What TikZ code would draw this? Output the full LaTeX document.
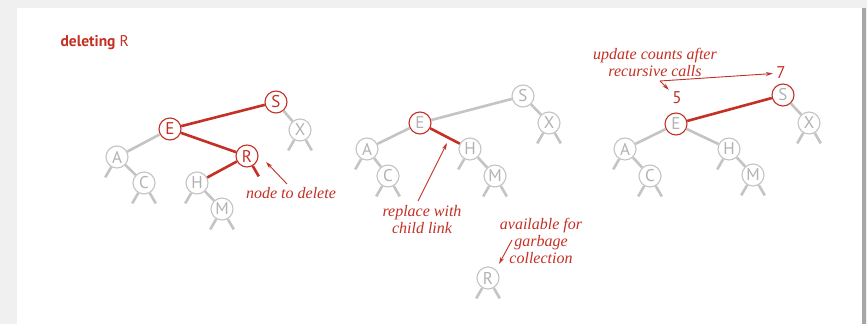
\documentclass[tikz,border=0pt]{standalone}
\usepackage{fontspec}
\setmainfont{Liberation Serif}
\setsansfont{PT Sans}
\usepackage{tikz}
\usetikzlibrary{arrows.meta}
\definecolor{bookred}{RGB}{196,48,36}
\definecolor{linkgray}{RGB}{196,196,196}
\definecolor{lettergray}{RGB}{178,178,178}
\definecolor{pagegray}{RGB}{240,240,240}

\begin{document}
\begin{tikzpicture}[x=1pt,y=1pt,
  key/.style={circle,draw=linkgray,fill=white,line width=1.1pt,minimum size=22pt,inner sep=0pt,
    text=lettergray,font=\sffamily\fontsize{17}{17}\selectfont},
  redkey/.style={key,draw=bookred},
  hotkey/.style={redkey,text=bookred},
  link/.style={linkgray,line width=2.6pt},
  redlink/.style={bookred,line width=2.6pt},
  count/.style={text=bookred,font=\sffamily\fontsize{17}{17}\selectfont},
  note/.style={text=bookred,font=\itshape\fontsize{16}{17}\selectfont,align=center},
  pointer/.style={bookred,line width=0.9pt,-{Stealth[length=7pt,width=4pt]}}]
  \useasboundingbox (0,0) rectangle (867,324);
  \fill[pagegray] (0,0) rectangle (867,324);
  \fill[gray!70] (862,0) rectangle (866,316);
  \fill[white] (17,0) rectangle (862,316);

  \node[anchor=base west,text=bookred,font=\sffamily\fontsize{15.5}{15}\selectfont] (title) at (57,277) {\textbf{deleting} R};

  % before: R is found
  \node[hotkey] (s1) at (276,222) {S};
  \node[hotkey] (e1) at (170,195) {E};
  \node[key] (x1) at (300,194) {X};
  \node[key] (a1) at (117,167) {A};
  \node[hotkey] (r1) at (247,168) {R};
  \node[key] (c1) at (144,141) {C};
  \node[key] (h1) at (197,141) {H};
  \node[key] (m1) at (222,115) {M};
  \draw[link] (s1) -- (x1);
  \draw[link] (e1) -- (a1);
  \draw[link] (a1) -- (c1);
  \draw[link] (h1) -- (m1);
  \draw[redlink] (s1) -- (e1);
  \draw[redlink] (e1) -- (r1);
  \draw[redlink] (r1) -- (h1);
  \draw[redlink] (r1.-60) -- ++(-60:12);
  \node[note] (del) at (291,131) {node to delete};
  \draw[pointer] (287,140) -- (266,162);

  % after: link replaced
  \node[key] (s2) at (523,228) {S};
  \node[redkey] (e2) at (420,201) {E};
  \node[key] (x2) at (549,201) {X};
  \node[key] (a2) at (367,175) {A};
  \node[key] (h2) at (470,175) {H};
  \node[key] (c2) at (388,148) {C};
  \node[key] (m2) at (495,148) {M};
  \node[key] (r2) at (488,46) {R};
  \draw[link] (s2) -- (e2);
  \draw[link] (s2) -- (x2);
  \draw[link] (e2) -- (a2);
  \draw[link] (a2) -- (c2);
  \draw[link] (h2) -- (m2);
  \draw[redlink] (e2) -- (h2);
  \node[note] (repl) at (422,104) {replace with\\child link};
  \draw[pointer] (418,123) -- (447,181);
  \node[note] (garb) at (541,83) {available for\\garbage\\collection};
  \draw[pointer] (512,84) -- (499,60);

  % counts fixed on the way up
  \node[redkey] (s3) at (783,229) {S};
  \node[redkey] (e3) at (676,200) {E};
  \node[key] (x3) at (809,201) {X};
  \node[key] (a3) at (625,175) {A};
  \node[key] (h3) at (729,175) {H};
  \node[key] (c3) at (650,148) {C};
  \node[key] (m3) at (753,149) {M};
  \draw[link] (s3) -- (x3);
  \draw[link] (e3) -- (a3);
  \draw[link] (e3) -- (h3);
  \draw[link] (a3) -- (c3);
  \draw[link] (h3) -- (m3);
  \draw[redlink] (s3) -- (e3);
  \node[count] (seven) at (781,251) {7};
  \node[count] (five) at (677,226) {5};
  \node[note] (upd) at (655,262) {update counts after\\recursive calls};
  \coordinate (cnt) at (660,243);
  \draw[pointer] (cnt) -- (seven);
  \draw[pointer] (cnt) -- (five);

  % null links below the keys
  \foreach \n in {x1,c1,m1,r2,x2,c2,m2,x3,c3,m3}
    \draw[link] (\n.-120) -- ++(-120:12) (\n.-60) -- ++(-60:12);
  \foreach \n in {a1,h1,a2,h2,a3,h3}
    \draw[link] (\n.-120) -- ++(-120:12);
\end{tikzpicture}
\end{document}
